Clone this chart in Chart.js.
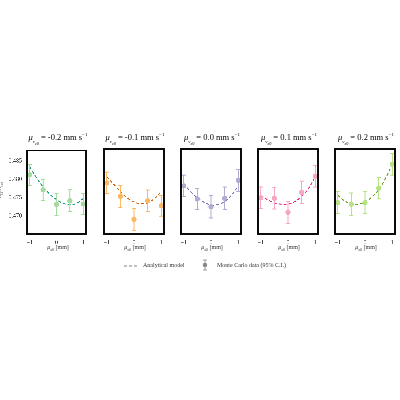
<!DOCTYPE html>
<html>
<head>
<meta charset="utf-8">
<script src="https://cdn.jsdelivr.net/npm/chart.js@4"></script>
<style>
  body { margin: 0; width: 400px; height: 400px; background: #fff; position: relative; font-family: "Liberation Serif", serif; color: #000; }
  canvas { position: absolute; }
  .ttl { position: absolute; top: 132px; font-size: 8.5px; text-align: center; width: 62px; white-space: nowrap; }
  .xl { position: absolute; top: 244px; font-size: 6px; text-align: center; width: 62px; color: #333; }
  .yl { position: absolute; left: -8px; top: 186px; font-size: 6px; transform: rotate(-90deg); color: #333; }
  .leg { position: absolute; top: 262px; font-size: 6px; color: #333; }
  i { font-style: italic; }
</style>
</head>
<body>
<script>
const xs = [-1, -0.5, 0, 0.5, 1];
const curveX = [-1, -0.75, -0.5, -0.25, 0, 0.25, 0.5, 0.75, 1];
const speeds = ['-0.2', '-0.1', '0.0', '0.1', '0.2'];
const pointsY = [
  [0.4813, 0.4772, 0.4732, 0.4742, 0.4733],
  [0.4788, 0.4752, 0.4690, 0.4740, 0.4727],
  [0.4780, 0.4745, 0.4724, 0.4747, 0.4795],
  [0.4748, 0.4747, 0.4709, 0.4763, 0.4806],
  [0.4735, 0.4731, 0.4735, 0.4774, 0.4838]
];
const errHalf = [
  [0.0029, 0.0029, 0.0030, 0.0030, 0.0029],
  [0.0029, 0.0029, 0.0030, 0.0029, 0.0028],
  [0.0029, 0.0029, 0.0030, 0.0030, 0.0029],
  [0.0029, 0.0029, 0.0030, 0.0030, 0.0029],
  [0.0030, 0.0030, 0.0029, 0.0029, 0.0029]
];
const curveY = [
  [0.4835, 0.4805, 0.4780, 0.4760, 0.4745, 0.4735, 0.4731, 0.4735, 0.4748],
  [0.4805, 0.4785, 0.4765, 0.4748, 0.4737, 0.4732, 0.4735, 0.4746, 0.4765],
  [0.4785, 0.4765, 0.4748, 0.4736, 0.4729, 0.4730, 0.4738, 0.4755, 0.4780],
  [0.4755, 0.4743, 0.4735, 0.4731, 0.4731, 0.4738, 0.4752, 0.4773, 0.4805],
  [0.4755, 0.4740, 0.4732, 0.4731, 0.4737, 0.4750, 0.4770, 0.4800, 0.4838]
];
const yTicks = [0.470, 0.475, 0.480, 0.485];
const xTicks = [-1, 0, 1];
const lineColors = ['#1b9e77', '#d95f02', '#7570b3', '#e7298a', '#66a61e'];
const pointColors = ['#a6dba0', '#fdb863', '#b2abd2', '#f7a8c0', '#b8e186'];

const plotLefts = [27, 104, 181, 258, 335];

const boxAndErrors = {
  id: 'boxAndErrors',
  afterDatasetsDraw(chart) {
    const { ctx, chartArea: a, scales: { x, y } } = chart;
    const i = chart.options.plugins.boxAndErrors.idx;
    ctx.save();
    ctx.strokeStyle = pointColors[i];
    ctx.lineWidth = 1;
    xs.forEach((xv, k) => {
      const px = x.getPixelForValue(xv);
      const p1 = y.getPixelForValue(pointsY[i][k] + errHalf[i][k]);
      const p2 = y.getPixelForValue(pointsY[i][k] - errHalf[i][k]);
      ctx.beginPath();
      ctx.moveTo(px, p1); ctx.lineTo(px, p2);
      ctx.moveTo(px - 2, p1); ctx.lineTo(px + 2, p1);
      ctx.moveTo(px - 2, p2); ctx.lineTo(px + 2, p2);
      ctx.stroke();
    });
    ctx.strokeStyle = '#000';
    ctx.lineWidth = 1.3;
    ctx.strokeRect(a.left, a.top, a.right - a.left, a.bottom - a.top);
    ctx.restore();
  }
};

for (let i = 0; i < 5; i++) {
  const c = document.createElement('canvas');
  const first = i === 0;
  const left = first ? 0 : plotLefts[i] - 5;
  const w = first ? 90 : 69;
  c.style.left = left + 'px';
  c.style.top = '145px';
  c.width = w; c.height = 103;
  document.body.appendChild(c);

  new Chart(c, {
    type: 'scatter',
    data: {
      datasets: [
        {
          data: curveX.map((v, k) => ({ x: v, y: curveY[i][k] })),
          showLine: true, borderColor: lineColors[i], borderWidth: 1,
          borderDash: [3, 2], pointRadius: 0, tension: 0.4, order: 2
        },
        {
          data: xs.map((v, k) => ({ x: v, y: pointsY[i][k] })),
          backgroundColor: pointColors[i], borderWidth: 0, pointRadius: 2.6, order: 1
        }
      ]
    },
    options: {
      responsive: false, animation: false, devicePixelRatio: 3,
      layout: { padding: { top: 2, right: 2, left: 0, bottom: 0 } },
      plugins: { legend: { display: false }, tooltip: { enabled: false }, boxAndErrors: { idx: i } },
      scales: {
        x: {
          min: -1.1, max: 1.1,
          afterBuildTicks: s => { s.ticks = xTicks.map(v => ({ value: v })); },
          afterFit: s => { s.height = 14; },
          grid: { display: false, drawTicks: true, tickLength: 3 },
          border: { display: false },
          ticks: { font: { family: 'Liberation Serif', size: 6 }, color: '#444', padding: 2, maxRotation: 0,
                   callback: v => v === -1 ? '\u22121' : String(v) }
        },
        y: {
          min: 0.4651, max: 0.4879,
          afterBuildTicks: s => { s.ticks = yTicks.map(v => ({ value: v })); },
          afterFit: s => { s.width = first ? 27 : 5; },
          grid: { display: false, drawTicks: true, tickLength: 3 },
          border: { display: false },
          ticks: { display: first, font: { family: 'Liberation Serif', size: 6 }, color: '#444', padding: 2,
                   callback: v => v.toFixed(3) }
        }
      }
    },
    plugins: [boxAndErrors]
  });

  const t = document.createElement('div');
  t.className = 'ttl';
  t.style.left = plotLefts[i] + 'px';
  t.innerHTML = '<i>\u03bc</i><sub style="font-size:5px"><i>v<sub>z0</sub></i></sub> = ' + speeds[i] + ' mm s<sup style="font-size:5px">\u22121</sup>';
  document.body.appendChild(t);

  const xl = document.createElement('div');
  xl.className = 'xl';
  xl.style.left = plotLefts[i] + 'px';
  xl.innerHTML = '<i>\u03bc</i><sub style="font-size:4px"><i>x</i>0</sub> [mm]';
  document.body.appendChild(xl);
}
</script>
<div class="yl"><i>n</i><sub style="font-size:4px">D</sub>/<i>N</i><sub style="font-size:4px">tot</sub></div>
<svg style="position:absolute;left:124px;top:263px" width="14" height="6"><line x1="0" y1="3" x2="14" y2="3" stroke="#666" stroke-width="0.8" stroke-dasharray="3,2"/></svg>
<div class="leg" style="left:143px">Analytical model</div>
<svg style="position:absolute;left:201px;top:259px" width="8" height="12"><line x1="4" y1="1" x2="4" y2="11" stroke="#888" stroke-width="0.8"/><line x1="2" y1="1" x2="6" y2="1" stroke="#888" stroke-width="0.8"/><line x1="2" y1="11" x2="6" y2="11" stroke="#888" stroke-width="0.8"/><circle cx="4" cy="6" r="2.2" fill="#888"/></svg>
<div class="leg" style="left:217px">Monte Carlo data (95% C.I.)</div>
</body>
</html>
